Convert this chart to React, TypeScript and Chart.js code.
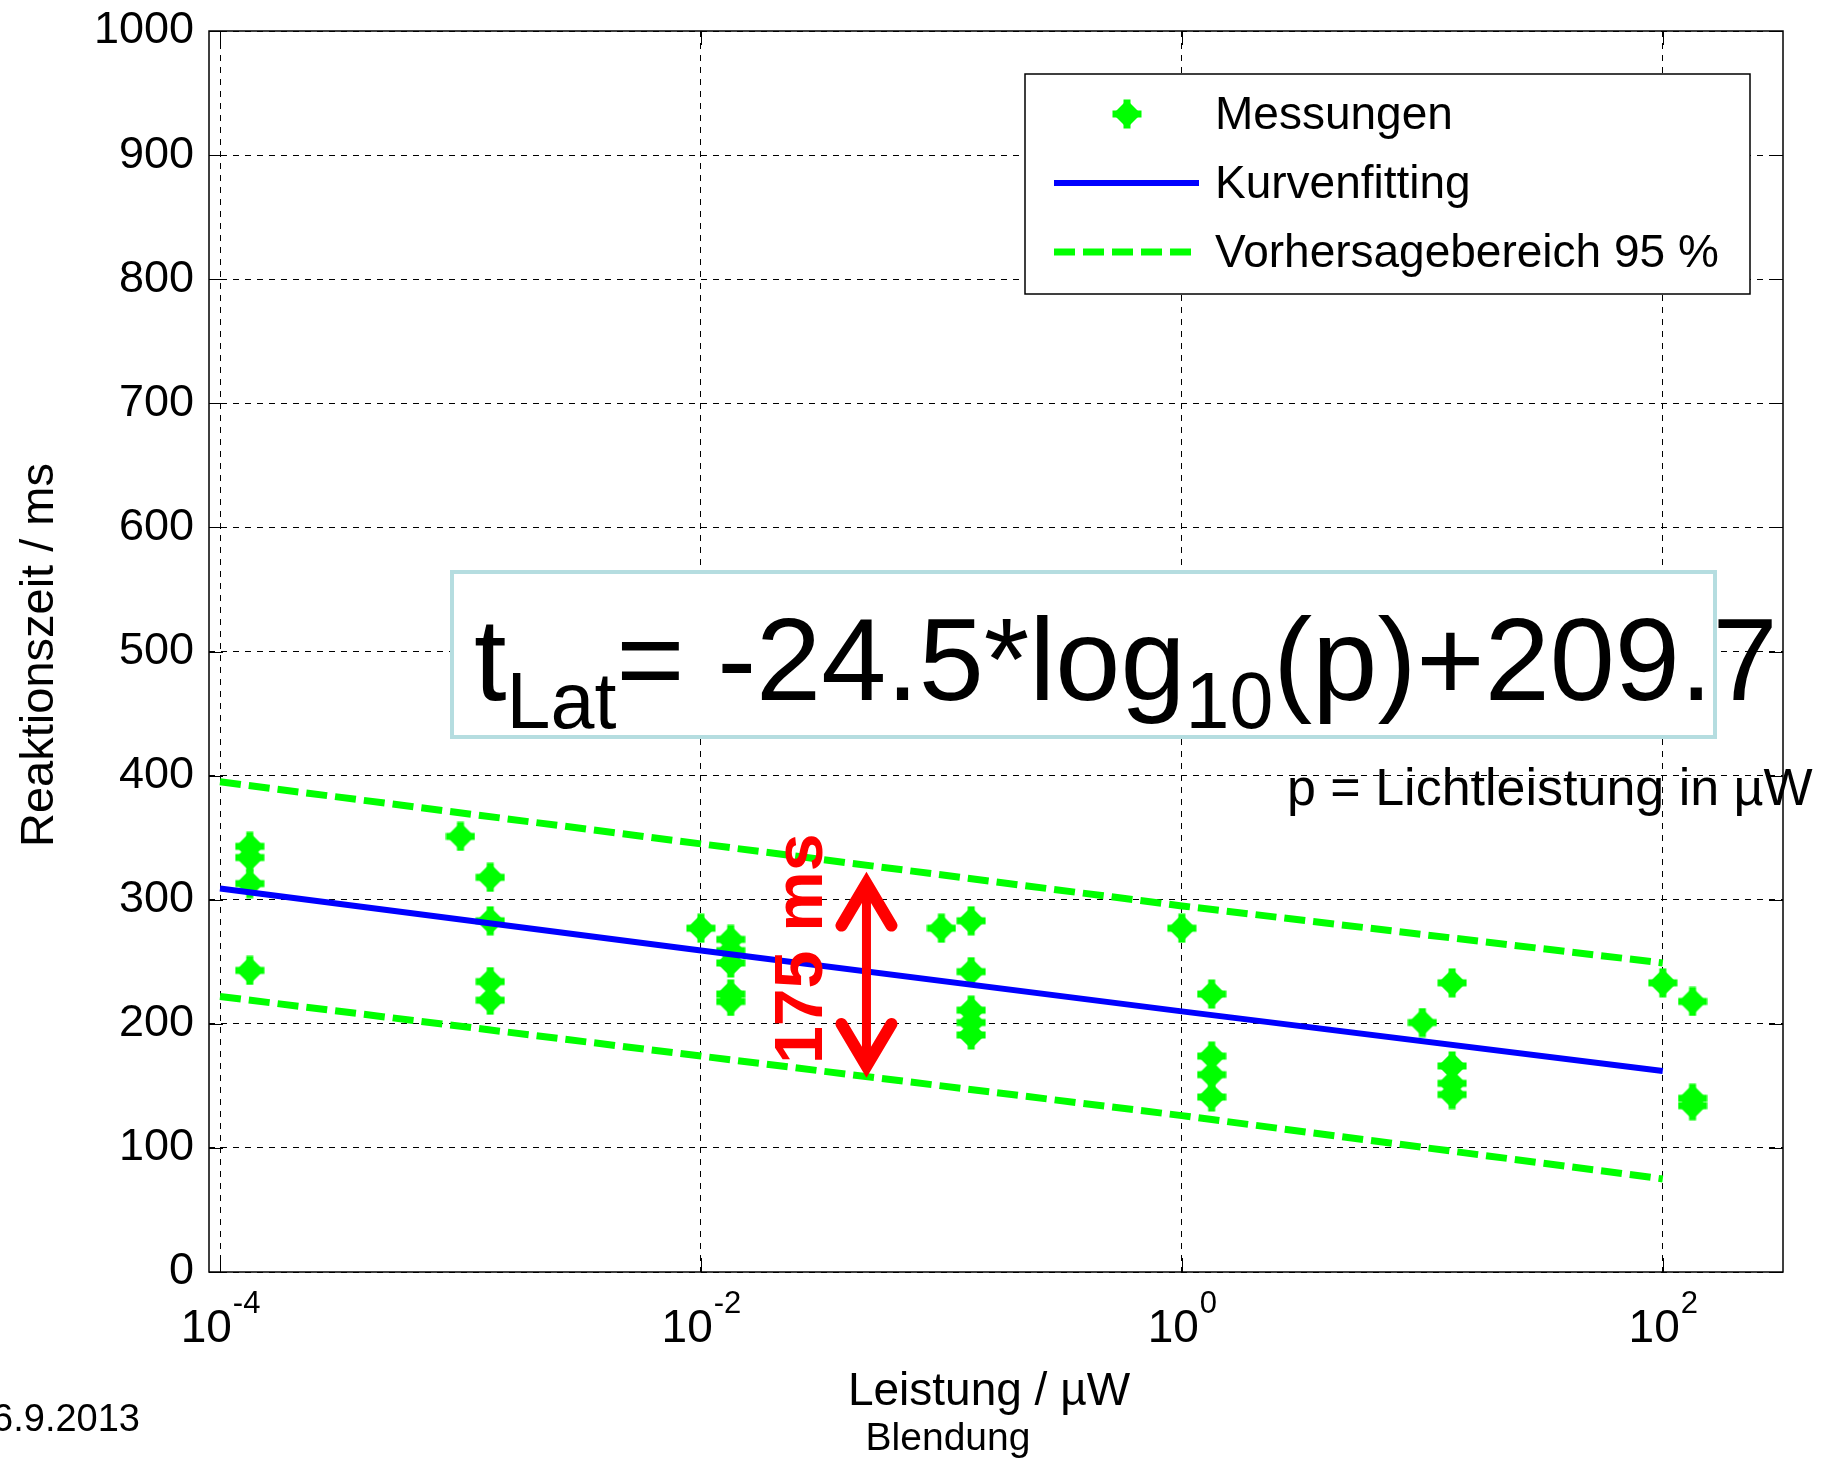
import React, { useEffect, useRef } from 'react';
import { Chart, registerables } from 'chart.js';

Chart.register(...registerables);

// ---------- data ----------
const xTickValues = [1e-4, 1e-2, 1, 100];
const xTickExponents = ['-4', '-2', '0', '2'];

const measX = [
  1.33e-4, 1.33e-4, 1.33e-4, 1.33e-4,
  1e-3,
  1.33e-3, 1.33e-3, 1.33e-3, 1.33e-3,
  1e-2,
  1.33e-2, 1.33e-2, 1.33e-2, 1.33e-2, 1.33e-2,
  0.1,
  0.133, 0.133, 0.133, 0.133, 0.133,
  1,
  1.33, 1.33, 1.33, 1.33,
  10,
  13.3, 13.3, 13.3, 13.3,
  100,
  133, 133, 133,
];
const measY = [
  343, 334, 313, 243,
  351,
  318, 283, 234, 219,
  277,
  268, 259, 249, 224, 218,
  277,
  283, 242, 211, 201, 191,
  277,
  224, 174, 159, 141,
  201,
  233, 166, 152, 143,
  233,
  218, 140, 134,
];

const fitX = [1e-4, 1e-2, 1, 100];
const fitY = [309, 259, 210, 162];

const bandX = [1e-4, 1e-2, 1, 100];
const upperY = [395, 345, 295, 249];
const lowerY = [222, 174, 126, 75];

const arrowX = 0.0488;
const arrowY = [166, 313];

const legendLabels = ['Messungen', 'Kurvenfitting', 'Vorhersagebereich 95 %'];
const yTitle = 'Reaktionszeit / ms';
const xTitle = 'Leistung / µW';
const xSubTitle = 'Blendung';
const dateText = '6.9.2013';
const eqParts = [
  { t: 't', sub: false },
  { t: 'Lat', sub: true },
  { t: '= -24.5*log', sub: false },
  { t: '10', sub: true },
  { t: '(p)+209.7', sub: false },
];
const pText = 'p = Lichtleistung in µW';
const arrowLabel = '175 ms';

const FONT = '"Liberation Sans", Arial, "DejaVu Sans", sans-serif';
const f = (size: number, weight = 'normal') => `${weight} ${size}px ${FONT}`;

function makeMarker(): HTMLCanvasElement {
  const c = document.createElement('canvas');
  c.width = 30;
  c.height = 30;
  const g = c.getContext('2d')!;
  g.fillStyle = '#00ff00';
  g.beginPath();
  g.moveTo(15, 1);
  g.lineTo(29, 15);
  g.lineTo(15, 29);
  g.lineTo(1, 15);
  g.closePath();
  g.fill();
  g.fillRect(11.5, 0.5, 7, 29);
  g.fillRect(0.5, 11.5, 29, 7);
  return c;
}

export default function App() {
  const ref = useRef<HTMLCanvasElement | null>(null);

  useEffect(() => {
    document.body.style.margin = '0';
    document.body.style.overflow = 'hidden';
    const canvas = ref.current;
    if (!canvas) return;
    const marker = makeMarker();

    const annot = {
      id: 'annot',
      afterDraw(chart: any) {
        const { ctx, chartArea: a, scales } = chart;
        const xs = scales.x;
        const ys = scales.y;
        ctx.save();
        ctx.setLineDash([]);

        // inward tick marks
        ctx.strokeStyle = '#000';
        ctx.lineWidth = 1;
        ctx.beginPath();
        for (const t of ys.ticks) {
          const py = Math.round(ys.getPixelForValue(t.value)) + 0.5;
          ctx.moveTo(a.left, py);
          ctx.lineTo(a.left + 14, py);
          ctx.moveTo(a.right, py);
          ctx.lineTo(a.right - 14, py);
        }
        for (const v of xTickValues) {
          const px = Math.round(xs.getPixelForValue(v)) + 0.5;
          ctx.moveTo(px, a.bottom);
          ctx.lineTo(px, a.bottom - 14);
          ctx.moveTo(px, a.top);
          ctx.lineTo(px, a.top + 14);
        }
        ctx.stroke();

        // frame
        ctx.lineWidth = 1.5;
        ctx.strokeRect(a.left, a.top, a.right - a.left, a.bottom - a.top);

        // x tick labels with superscripts
        ctx.fillStyle = '#000';
        ctx.textBaseline = 'alphabetic';
        ctx.textAlign = 'left';
        xTickValues.forEach((v, i) => {
          const px = xs.getPixelForValue(v);
          ctx.font = f(46);
          const w1 = ctx.measureText('10').width;
          ctx.font = f(31);
          const w2 = ctx.measureText(xTickExponents[i]).width;
          const x0 = px - (w1 + w2) / 2;
          ctx.font = f(46);
          ctx.fillText('10', x0, 1342);
          ctx.font = f(31);
          ctx.fillText(xTickExponents[i], x0 + w1 + 1, 1313);
        });

        // axis titles
        ctx.font = f(46);
        ctx.textAlign = 'center';
        ctx.fillText(xTitle, 989, 1405);
        ctx.font = f(39);
        ctx.fillText(xSubTitle, 948, 1450);
        ctx.font = f(38);
        ctx.textAlign = 'right';
        ctx.fillText(dateText, 140, 1431);

        ctx.save();
        ctx.translate(53, 655);
        ctx.rotate(-Math.PI / 2);
        ctx.textAlign = 'center';
        ctx.font = f(47);
        ctx.fillText(yTitle, 0, 0);
        ctx.restore();

        // equation box
        ctx.fillStyle = '#ffffff';
        ctx.fillRect(452, 572, 1263, 165);
        ctx.strokeStyle = '#b5dde0';
        ctx.lineWidth = 4;
        ctx.strokeRect(452, 572, 1263, 165);
        ctx.fillStyle = '#000';
        ctx.textAlign = 'left';
        let cx = 474;
        for (const p of eqParts) {
          ctx.font = f(p.sub ? 79 : 117);
          ctx.fillText(p.t, cx, p.sub ? 728 : 700);
          cx += ctx.measureText(p.t).width;
        }

        // p = ...
        ctx.font = f(52);
        ctx.fillText(pText, 1287, 805);

        // red double arrow
        const ax = xs.getPixelForValue(arrowX);
        const aTop = ys.getPixelForValue(arrowY[1]);
        const aBot = ys.getPixelForValue(arrowY[0]);
        ctx.strokeStyle = '#ff0000';
        ctx.lineCap = 'butt';
        ctx.lineWidth = 9;
        ctx.beginPath();
        ctx.moveTo(ax, aTop);
        ctx.lineTo(ax, aBot);
        ctx.stroke();
        ctx.lineWidth = 12;
        ctx.lineCap = 'round';
        ctx.lineJoin = 'miter';
        ctx.beginPath();
        ctx.moveTo(ax - 25, aTop + 42);
        ctx.lineTo(ax, aTop);
        ctx.lineTo(ax + 25, aTop + 42);
        ctx.moveTo(ax - 25, aBot - 42);
        ctx.lineTo(ax, aBot);
        ctx.lineTo(ax + 25, aBot - 42);
        ctx.stroke();

        ctx.save();
        ctx.translate(ax - 44, (aTop + aBot) / 2 - 26);
        ctx.rotate(-Math.PI / 2);
        ctx.textAlign = 'center';
        ctx.fillStyle = '#ff0000';
        ctx.font = f(68, 'bold');
        ctx.fillText(arrowLabel, 0, 0);
        ctx.restore();

        // legend
        const lx = 1025, ly = 74, lw = 725, lh = 220;
        ctx.fillStyle = '#fff';
        ctx.fillRect(lx, ly, lw, lh);
        ctx.strokeStyle = '#000';
        ctx.lineWidth = 1.5;
        ctx.setLineDash([]);
        ctx.strokeRect(lx, ly, lw, lh);
        const rows = [114, 183, 252];
        ctx.drawImage(marker, 1127 - 15, rows[0] - 15);
        ctx.lineCap = 'butt';
        ctx.strokeStyle = '#0000ff';
        ctx.lineWidth = 6;
        ctx.beginPath();
        ctx.moveTo(1054, rows[1]);
        ctx.lineTo(1199, rows[1]);
        ctx.stroke();
        ctx.strokeStyle = '#00ff00';
        ctx.lineWidth = 7;
        ctx.setLineDash([21, 8]);
        ctx.beginPath();
        ctx.moveTo(1054, rows[2]);
        ctx.lineTo(1199, rows[2]);
        ctx.stroke();
        ctx.setLineDash([]);
        ctx.fillStyle = '#000';
        ctx.font = f(46);
        ctx.textAlign = 'left';
        ctx.textBaseline = 'middle';
        legendLabels.forEach((t, i) => ctx.fillText(t, 1215, rows[i] + 2));

        ctx.restore();
      },
    };

    const gridOpts = { color: '#000', lineWidth: 1, drawTicks: false };

    const chart = new Chart(canvas, {
      type: 'scatter',
      data: {
        datasets: [
          {
            type: 'line',
            label: 'Kurvenfitting',
            data: fitX.map((x, i) => ({ x, y: fitY[i] })),
            borderColor: '#0000ff',
            borderWidth: 6,
            pointRadius: 0,
            fill: false,
            tension: 0,
            order: 1,
          },
          {
            type: 'line',
            label: 'Vorhersagebereich 95 %',
            data: bandX.map((x, i) => ({ x, y: upperY[i] })),
            borderColor: '#00ff00',
            borderWidth: 7,
            borderDash: [21, 8],
            pointRadius: 0,
            fill: false,
            tension: 0,
            order: 2,
          },
          {
            type: 'line',
            label: 'Vorhersagebereich 95 % (unten)',
            data: bandX.map((x, i) => ({ x, y: lowerY[i] })),
            borderColor: '#00ff00',
            borderWidth: 7,
            borderDash: [21, 8],
            pointRadius: 0,
            fill: false,
            tension: 0,
            order: 2,
          },
          {
            type: 'scatter',
            label: 'Messungen',
            data: measX.map((x, i) => ({ x, y: measY[i] })),
            pointStyle: marker as any,
            pointRadius: 15,
            backgroundColor: '#00ff00',
            borderColor: '#00ff00',
            order: 3,
          },
        ] as any,
      },
      options: {
        animation: false,
        responsive: false,
        devicePixelRatio: 1,
        layout: { padding: { left: 0, top: 31, right: 51, bottom: 0 } },
        plugins: { legend: { display: false }, tooltip: { enabled: false } },
        scales: {
          x: {
            type: 'logarithmic',
            min: 9e-5,
            max: 316.2,
            afterBuildTicks: (s: any) => {
              s.ticks = xTickValues.map((v) => ({ value: v }));
            },
            afterFit: (s: any) => {
              s.height = 190;
              s.paddingLeft = 0;
              s.paddingRight = 0;
            },
            ticks: { display: false },
            grid: gridOpts,
            border: { display: false, dash: [6, 6] },
          },
          y: {
            type: 'linear',
            min: 0,
            max: 1000,
            afterFit: (s: any) => {
              s.width = 209;
              s.paddingTop = 0;
              s.paddingBottom = 0;
            },
            ticks: {
              stepSize: 100,
              color: '#000',
              padding: 15,
              font: { family: FONT, size: 45 },
              callback: (v: any) => String(v),
            },
            grid: gridOpts,
            border: { display: false, dash: [6, 6] },
          },
        },
      } as any,
      plugins: [annot],
    });

    return () => chart.destroy();
  }, []);

  return (
    <div style={{ width: 1834, height: 1462, background: '#fff' }}>
      <canvas ref={ref} width={1834} height={1462} style={{ display: 'block' }} />
    </div>
  );
}
